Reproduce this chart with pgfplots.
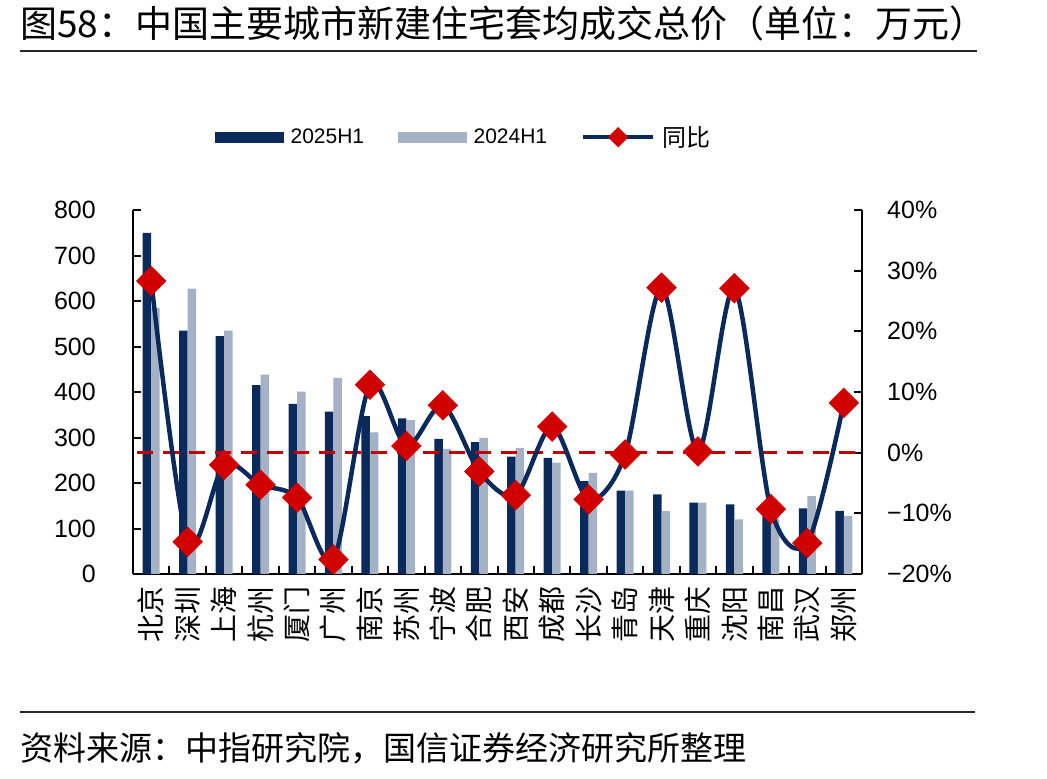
\documentclass[border=0pt]{standalone}
\usepackage{fontspec}
\usepackage{pgfplots}
\usepackage{pgfplotstable}
\pgfplotsset{compat=1.18}
\setmainfont{Liberation Sans}
\newfontfamily\cjk{Noto Sans CJK SC}

\definecolor{navy}{HTML}{0B2A5C}
\definecolor{steel}{HTML}{A5B2C5}
\definecolor{dred}{HTML}{D00000}
\definecolor{dashred}{HTML}{C00000}

% 套均成交总价（万元）与同比（%）
\pgfplotstableread{
idx  y25  y24  yoy
0    750  585  28.3
1    535  627  -14.7
2    523  535  -2.0
3    415  438  -5.3
4    374  401  -7.4
5    357  431  -17.6
6    347  311  11.2
7    342  338  1.1
8    297  275  7.8
9    290  299  -3.1
10   258  277  -7.0
11   255  245  4.3
12   204  222  -7.7
13   183  183  -0.3
14   175  138  27.2
15   157  157  0.2
16   153  120  27.1
17   140  154  -9.3
18   144  171  -14.9
19   139  128  8.2
}\prices

\begin{document}
\begin{tikzpicture}[x=1pt,y=1pt]
\useasboundingbox (-133,-205) rectangle (914,574);

% 标题与分隔线
\node[anchor=west, inner sep=0pt] at (-113,551)
  {\cjk\fontsize{37}{37}\selectfont 图58：中国主要城市新建住宅套均成交总价（单位：万元）};
\draw[line width=2pt, black!85] (-113,523) -- (844,523);
\draw[line width=2pt, black!85] (-113,-138) -- (842,-138);
\node[anchor=west, inner sep=0pt] at (-113,-174)
  {\cjk\fontsize{33}{33}\selectfont 资料来源：中指研究院，国信证券经济研究所整理};

% 左轴：柱状图
\begin{axis}[
  at={(0,0)}, anchor=south west,
  scale only axis, width=729pt, height=364pt,
  xmin=-0.5, xmax=19.5, ymin=0, ymax=800,
  ybar=0pt, bar width=8.5pt,
  axis x line*=bottom, axis y line*=left,
  axis line style={line width=2pt, black},
  tick align=inside, major tick length=8pt,
  tick style={line width=2pt, black},
  xtick={-0.5,0.5,...,19.5}, x tick label as interval,
  xticklabels={北京,深圳,上海,杭州,厦门,广州,南京,苏州,宁波,合肥,西安,成都,长沙,青岛,天津,重庆,沈阳,南昌,武汉,郑州},
  xticklabel style={font=\cjk\fontsize{28}{28}\selectfont, rotate=90, anchor=east, inner sep=0pt, xshift=-12pt},
  ytick={0,100,...,800},
  yticklabel style={font=\fontsize{25}{25}\selectfont, anchor=east, inner sep=0pt, xshift=-37pt},
  /pgf/number format/assume math mode=true,
]
\addplot[fill=navy, draw=none] table[x=idx, y=y25] {\prices};
\addplot[fill=steel, draw=none] table[x=idx, y=y24] {\prices};
\end{axis}

% 右轴：同比
\begin{axis}[
  at={(0,0)}, anchor=south west,
  scale only axis, width=729pt, height=364pt,
  xmin=-0.5, xmax=19.5, ymin=-20, ymax=40,
  axis x line=none, axis y line*=right,
  axis line style={line width=2pt, black},
  tick align=inside, major tick length=8pt,
  tick style={line width=2pt, black},
  ytick={-20,-10,...,40},
  yticklabels={−20\%,−10\%,0\%,10\%,20\%,30\%,40\%},
  yticklabel style={font=\fontsize{25}{25}\selectfont, anchor=west, inner sep=0pt, xshift=25pt},
  legend columns=3,
  legend cell align=left,
  legend style={at={(0.1125,1.2)}, anchor=west, draw=none, fill=none, inner sep=0pt,
    font=\fontsize{21}{21}\selectfont,
    nodes={inner sep=0pt},
    /tikz/every odd column/.append style={column sep=7pt},
    /tikz/every even column/.append style={column sep=34pt}},
]
\addlegendimage{legend image code/.code={\fill[navy] (0pt,-5pt) rectangle (68pt,5pt);}}
\addlegendentry{2025H1}
\addlegendimage{legend image code/.code={\fill[steel] (0pt,-5pt) rectangle (68pt,5pt);}}
\addlegendentry{2024H1}
\addplot[dashred, line width=3.5pt, dash pattern=on 16pt off 10pt, forget plot]
  coordinates {(-0.38,0) (19.35,0)};
\addplot[navy, line width=4.5pt, smooth, tension=0.5,
  mark=square*, mark size=10.5pt,
  mark options={fill=dred, draw=dred, line width=0.5pt, rotate=45, solid},
  legend image code/.code={
    \draw[navy, line width=4pt] (0pt,0pt) -- (70pt,0pt);
    \fill[dred] (28pt,0pt) -- (35pt,7pt) -- (42pt,0pt) -- (35pt,-7pt) -- cycle;}]
  table[x=idx, y=yoy] {\prices};
\addlegendentry{\cjk\fontsize{24}{24}\selectfont 同比}
\end{axis}
\end{tikzpicture}
\end{document}
